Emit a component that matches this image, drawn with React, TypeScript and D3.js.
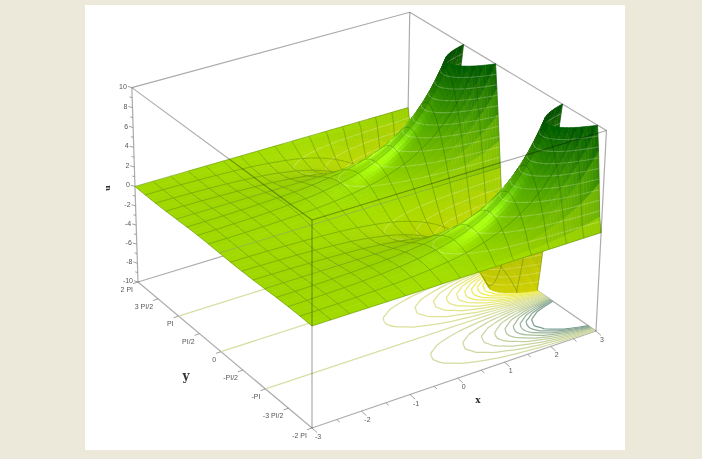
import React from "react";
import * as d3 from "d3";

const WIDTH = 702;
const HEIGHT = 459;

const xGrid = [-3, -2.625, -2.25, -1.875, -1.5, -1.125, -0.75, -0.375, 0, 0.1875, 0.375, 0.5625, 0.75, 0.9375, 1.125, 1.3125, 1.5, 1.6875, 1.875, 2.0625, 2.25, 2.4375, 2.625, 2.8125, 3];
const yGrid = [-6.283, -5.89, -5.498, -5.105, -4.712, -4.32, -3.927, -3.534, -3.142, -2.749, -2.356, -1.963, -1.571, -1.178, -0.785, -0.393, 0, 0.393, 0.785, 1.178, 1.571, 1.963, 2.356, 2.749, 3.142, 3.534, 3.927, 4.32, 4.712, 5.105, 5.498, 5.89, 6.283];

// one row per xGrid value, one column per yGrid value
const zRows = [
  [0, .02, .04, .05, .05, .05, .04, .02, 0, -.02, -.04, -.05, -.05, -.05, -.04, -.02, 0, .02, .04, .05, .05, .05, .04, .02, 0, -.02, -.04, -.05, -.05, -.05, -.04, -.02, 0],
  [0, .03, .05, .07, .07, .07, .05, .03, 0, -.03, -.05, -.07, -.07, -.07, -.05, -.03, 0, .03, .05, .07, .07, .07, .05, .03, 0, -.03, -.05, -.07, -.07, -.07, -.05, -.03, 0],
  [0, .04, .07, .1, .11, .1, .07, .04, 0, -.04, -.07, -.1, -.11, -.1, -.07, -.04, 0, .04, .07, .1, .11, .1, .07, .04, 0, -.04, -.07, -.1, -.11, -.1, -.07, -.04, 0],
  [0, .06, .11, .14, .15, .14, .11, .06, 0, -.06, -.11, -.14, -.15, -.14, -.11, -.06, 0, .06, .11, .14, .15, .14, .11, .06, 0, -.06, -.11, -.14, -.15, -.14, -.11, -.06, 0],
  [0, .09, .16, .21, .22, .21, .16, .09, 0, -.09, -.16, -.21, -.22, -.21, -.16, -.09, 0, .09, .16, .21, .22, .21, .16, .09, 0, -.09, -.16, -.21, -.22, -.21, -.16, -.09, 0],
  [0, .12, .23, .3, .33, .3, .23, .12, 0, -.12, -.23, -.3, -.33, -.3, -.23, -.12, 0, .12, .23, .3, .33, .3, .23, .12, 0, -.12, -.23, -.3, -.33, -.3, -.23, -.12, 0],
  [0, .18, .33, .44, .47, .44, .33, .18, 0, -.18, -.33, -.44, -.47, -.44, -.33, -.18, 0, .18, .33, .44, .47, .44, .33, .18, 0, -.18, -.33, -.44, -.47, -.44, -.33, -.18, 0],
  [0, .26, .49, .64, .69, .64, .49, .26, 0, -.26, -.49, -.64, -.69, -.64, -.49, -.26, 0, .26, .49, .64, .69, .64, .49, .26, 0, -.26, -.49, -.64, -.69, -.64, -.49, -.26, 0],
  [0, .38, .71, .92, 1, .92, .71, .38, 0, -.38, -.71, -.92, -1, -.92, -.71, -.38, 0, .38, .71, .92, 1, .92, .71, .38, 0, -.38, -.71, -.92, -1, -.92, -.71, -.38, 0],
  [0, .46, .85, 1.11, 1.21, 1.11, .85, .46, 0, -.46, -.85, -1.11, -1.21, -1.11, -.85, -.46, 0, .46, .85, 1.11, 1.21, 1.11, .85, .46, 0, -.46, -.85, -1.11, -1.21, -1.11, -.85, -.46, 0],
  [0, .56, 1.03, 1.34, 1.46, 1.34, 1.03, .56, 0, -.56, -1.03, -1.34, -1.46, -1.34, -1.03, -.56, 0, .56, 1.03, 1.34, 1.46, 1.34, 1.03, .56, 0, -.56, -1.03, -1.34, -1.46, -1.34, -1.03, -.56, 0],
  [0, .67, 1.24, 1.62, 1.76, 1.62, 1.24, .67, 0, -.67, -1.24, -1.62, -1.76, -1.62, -1.24, -.67, 0, .67, 1.24, 1.62, 1.76, 1.62, 1.24, .67, 0, -.67, -1.24, -1.62, -1.76, -1.62, -1.24, -.67, 0],
  [0, .81, 1.5, 1.96, 2.12, 1.96, 1.5, .81, 0, -.81, -1.5, -1.96, -2.12, -1.96, -1.5, -.81, 0, .81, 1.5, 1.96, 2.12, 1.96, 1.5, .81, 0, -.81, -1.5, -1.96, -2.12, -1.96, -1.5, -.81, 0],
  [0, .98, 1.81, 2.36, 2.55, 2.36, 1.81, .98, 0, -.98, -1.81, -2.36, -2.55, -2.36, -1.81, -.98, 0, .98, 1.81, 2.36, 2.55, 2.36, 1.81, .98, 0, -.98, -1.81, -2.36, -2.55, -2.36, -1.81, -.98, 0],
  [0, 1.18, 2.18, 2.85, 3.08, 2.85, 2.18, 1.18, 0, -1.18, -2.18, -2.85, -3.08, -2.85, -2.18, -1.18, 0, 1.18, 2.18, 2.85, 3.08, 2.85, 2.18, 1.18, 0, -1.18, -2.18, -2.85, -3.08, -2.85, -2.18, -1.18, 0],
  [0, 1.42, 2.63, 3.43, 3.72, 3.43, 2.63, 1.42, 0, -1.42, -2.63, -3.43, -3.72, -3.43, -2.63, -1.42, 0, 1.42, 2.63, 3.43, 3.72, 3.43, 2.63, 1.42, 0, -1.42, -2.63, -3.43, -3.72, -3.43, -2.63, -1.42, 0],
  [0, 1.72, 3.17, 4.14, 4.48, 4.14, 3.17, 1.72, 0, -1.72, -3.17, -4.14, -4.48, -4.14, -3.17, -1.72, 0, 1.72, 3.17, 4.14, 4.48, 4.14, 3.17, 1.72, 0, -1.72, -3.17, -4.14, -4.48, -4.14, -3.17, -1.72, 0],
  [0, 2.07, 3.82, 5, 5.41, 5, 3.82, 2.07, 0, -2.07, -3.82, -5, -5.41, -5, -3.82, -2.07, 0, 2.07, 3.82, 5, 5.41, 5, 3.82, 2.07, 0, -2.07, -3.82, -5, -5.41, -5, -3.82, -2.07, 0],
  [0, 2.5, 4.61, 6.03, 6.52, 6.03, 4.61, 2.5, 0, -2.5, -4.61, -6.03, -6.52, -6.03, -4.61, -2.5, 0, 2.5, 4.61, 6.03, 6.52, 6.03, 4.61, 2.5, 0, -2.5, -4.61, -6.03, -6.52, -6.03, -4.61, -2.5, 0],
  [0, 3.01, 5.56, 7.27, 7.87, 7.27, 5.56, 3.01, 0, -3.01, -5.56, -7.27, -7.87, -7.27, -5.56, -3.01, 0, 3.01, 5.56, 7.27, 7.87, 7.27, 5.56, 3.01, 0, -3.01, -5.56, -7.27, -7.87, -7.27, -5.56, -3.01, 0],
  [0, 3.63, 6.71, 8.77, 9.49, 8.77, 6.71, 3.63, 0, -3.63, -6.71, -8.77, -9.49, -8.77, -6.71, -3.63, 0, 3.63, 6.71, 8.77, 9.49, 8.77, 6.71, 3.63, 0, -3.63, -6.71, -8.77, -9.49, -8.77, -6.71, -3.63, 0],
  [0, 4.38, 8.09, 10.58, 11.45, 10.58, 8.09, 4.38, 0, -4.38, -8.09, -10.58, -11.45, -10.58, -8.09, -4.38, 0, 4.38, 8.09, 10.58, 11.45, 10.58, 8.09, 4.38, 0, -4.38, -8.09, -10.58, -11.45, -10.58, -8.09, -4.38, 0],
  [0, 5.29, 9.76, 12.76, 13.81, 12.76, 9.76, 5.29, 0, -5.29, -9.76, -12.76, -13.81, -12.76, -9.76, -5.29, 0, 5.29, 9.76, 12.76, 13.81, 12.76, 9.76, 5.29, 0, -5.29, -9.76, -12.76, -13.81, -12.76, -9.76, -5.29, 0],
  [0, 6.38, 11.77, 15.39, 16.65, 15.39, 11.77, 6.38, 0, -6.38, -11.77, -15.39, -16.65, -15.39, -11.77, -6.38, 0, 6.38, 11.77, 15.39, 16.65, 15.39, 11.77, 6.38, 0, -6.38, -11.77, -15.39, -16.65, -15.39, -11.77, -6.38, 0],
  [0, 7.69, 14.2, 18.56, 20.09, 18.56, 14.2, 7.69, 0, -7.69, -14.2, -18.56, -20.09, -18.56, -14.2, -7.69, 0, 7.69, 14.2, 18.56, 20.09, 18.56, 14.2, 7.69, 0, -7.69, -14.2, -18.56, -20.09, -18.56, -14.2, -7.69, 0],
];

const xTicks = [-3, -2, -1, 0, 1, 2, 3];
const xMinorTicks = [-2.5, -1.5, -0.5, 0.5, 1.5, 2.5];
const yTicks = [-6.283, -4.712, -3.142, -1.571, 0, 1.571, 3.142, 4.712, 6.283];
const yTickLabels = ["-2 PI", "-3 PI/2", "-PI", "-PI/2", "0", "PI/2", "PI", "3 PI/2", "2 PI"];
const zTicks = [-10, -8, -6, -4, -2, 0, 2, 4, 6, 8, 10];
const zMinorTicks = [-9, -7, -5, -3, -1, 1, 3, 5, 7, 9];
const contourLevels = [-9, -8, -7, -6, -5, -4, -3, -2, -1, 0, 1, 2, 3, 4, 5, 6, 7, 8, 9];

const X_MIN = -3, X_MAX = 3, Y_MIN = -6.283, Y_MAX = 6.283, Z_MIN = -10, Z_MAX = 10;
const ROWS = xGrid.length, COLS = yGrid.length;

// box corners on the page, perspective weights fitted to the far corners
const ORIGIN = [312, 428];
const X_END = [596, 331];
const Y_END = [138, 282];
const Z_END = [312, 220];
const WX = 1.054, WY = 1.0955, WZ = 0.9626;

const uScale = d3.scaleLinear().domain([X_MIN, X_MAX]).range([0, 1]);
const vScale = d3.scaleLinear().domain([Y_MIN, Y_MAX]).range([0, 1]);
const wScale = d3.scaleLinear().domain([Z_MIN, Z_MAX]).range([0, 1]);
const rowToX = d3.scaleLinear().domain(d3.range(ROWS)).range(xGrid).clamp(true);
const colToY = d3.scaleLinear().domain(d3.range(COLS)).range(yGrid).clamp(true);

type P3 = [number, number, number];

const depth = (p: P3) => 1 + uScale(p[0]) * (WX - 1) + vScale(p[1]) * (WY - 1) + wScale(p[2]) * (WZ - 1);

const project = (p: P3): [number, number] => {
  const u = uScale(p[0]), v = vScale(p[1]), w = wScale(p[2]);
  const d = depth(p);
  const f = (k: number) =>
    (ORIGIN[k] + u * (WX * X_END[k] - ORIGIN[k]) + v * (WY * Y_END[k] - ORIGIN[k]) + w * (WZ * Z_END[k] - ORIGIN[k])) / d;
  return [f(0), f(1)];
};

const linePath = d3.line<P3>().x((p) => project(p)[0]).y((p) => project(p)[1]);
const smoothPath = d3.line<P3>().x((p) => project(p)[0]).y((p) => project(p)[1]).curve(d3.curveCatmullRom);

const surfaceColor = d3.scaleLinear<string>().domain([-10, -4, 0, 5, 10]).range(["#f8f800", "#cce200", "#a0d800", "#4ea400", "#005c00"]);
const floorColor = d3.scaleLinear<string>().domain([-9, -4, 0, 4, 9]).range(["#f2f04a", "#e4e688", "#d8dea2", "#c2d2a0", "#7f9f95"]);

// table value at a fractional grid position, smoothed between the table's cells
const tableAt = (r: number, c: number) => {
  const cc = c < 0 ? -c : c > COLS - 1 ? 2 * (COLS - 1) - c : c;
  if (r < 0) return 2 * zRows[0][cc] - zRows[1][cc];
  if (r > ROWS - 1) return 2 * zRows[ROWS - 1][cc] - zRows[ROWS - 2][cc];
  return zRows[r][cc];
};
const catmull = (a: number, b: number, c: number, d: number, t: number) =>
  0.5 * (2 * b + (c - a) * t + (2 * a - 5 * b + 4 * c - d) * t * t + (3 * b - a - 3 * c + d) * t * t * t);
const zAt = (r: number, c: number) => {
  const ri = Math.min(Math.floor(r), ROWS - 2), ci = Math.min(Math.floor(c), COLS - 2);
  const along = (row: number) =>
    catmull(tableAt(row, ci - 1), tableAt(row, ci), tableAt(row, ci + 1), tableAt(row, ci + 2), c - ci);
  return catmull(along(ri - 1), along(ri), along(ri + 1), along(ri + 2), r - ri);
};
const pointAt = (r: number, c: number): P3 => [rowToX(r), colToY(c), zAt(r, c)];

// clip a polygon against one z limit
const clipZ = (poly: P3[], limit: number, keepBelow: boolean) => {
  const out: P3[] = [];
  const inside = (p: P3) => (keepBelow ? p[2] <= limit : p[2] >= limit);
  poly.forEach((a, i) => {
    const b = poly[(i + 1) % poly.length];
    if (inside(a)) out.push(a);
    if (inside(a) !== inside(b)) {
      const t = (limit - a[2]) / (b[2] - a[2]);
      out.push([a[0] + t * (b[0] - a[0]), a[1] + t * (b[1] - a[1]), limit]);
    }
  });
  return out;
};

const clipEdge = (a: P3, b: P3): P3[] | null => {
  let p = a, q = b;
  for (const [limit, below] of [[Z_MAX, true], [Z_MIN, false]] as [number, boolean][]) {
    const inA = below ? p[2] <= limit : p[2] >= limit;
    const inB = below ? q[2] <= limit : q[2] >= limit;
    if (!inA && !inB) return null;
    if (inA !== inB) {
      const t = (limit - p[2]) / (q[2] - p[2]);
      const c: P3 = [p[0] + t * (q[0] - p[0]), p[1] + t * (q[1] - p[1]), limit];
      if (inA) q = c;
      else p = c;
    }
  }
  return [p, q];
};

// level crossings inside one quad
const quadSegments = (quad: P3[], level: number): [P3, P3][] => {
  const cuts: P3[] = [];
  quad.forEach((a, k) => {
    const b = quad[(k + 1) % 4];
    if (a[2] >= level !== b[2] >= level) {
      const t = (level - a[2]) / (b[2] - a[2]);
      cuts.push([a[0] + t * (b[0] - a[0]), a[1] + t * (b[1] - a[1]), level]);
    }
  });
  if (cuts.length === 2) return [[cuts[0], cuts[1]]];
  if (cuts.length === 4) return [[cuts[0], cuts[1]], [cuts[2], cuts[3]]];
  return [];
};

const isMeshRow = (i: number) => i <= 8 || (i - 8) % 2 === 0;
const isMeshCol = (j: number) => j % 2 === 0;

const LIGHT = [-0.35, -0.5, 0.79];
const HIGHLIGHTS = [
  { dir: [-0.62, -0.2, 0.76], power: 18, gain: 0.42 },
  { dir: [-0.5, 0.55, 0.67], power: 22, gain: 0.5 },
];

const shade = (r: number, c: number) => {
  const e = 0.05;
  const z = Math.max(Z_MIN, Math.min(Z_MAX, zAt(r, c)));
  const r0 = Math.max(0, r - e), r1 = Math.min(ROWS - 1, r + e);
  const c0 = Math.max(0, c - e), c1 = Math.min(COLS - 1, c + e);
  const dzx = (zAt(r1, c) - zAt(r0, c)) / (rowToX(r1) - rowToX(r0));
  const dzy = (zAt(r, c1) - zAt(r, c0)) / (colToY(c1) - colToY(c0));
  const nx = (-dzx * 6) / 20, ny = (-dzy * 12.566) / 20, nz = 1;
  const len = Math.hypot(nx, ny, nz);
  const dot = (v: number[]) => (v[0] * nx + v[1] * ny + v[2] * nz) / len;
  const k = 0.84 + (0.16 * Math.max(0, dot(LIGHT))) / LIGHT[2];
  const spec = d3.sum(HIGHLIGHTS, (h) => Math.pow(Math.max(0, dot(h.dir)), h.power) * h.gain);
  const col = d3.rgb(surfaceColor(z));
  return d3.rgb(
    Math.min(255, col.r * k + spec * 130),
    Math.min(255, col.g * k + spec * 170),
    Math.min(255, col.b * k + spec * 50)
  ).formatHex();
};

type Cell = { i: number; j: number; n: number; order: number; polys: { d: string; fill: string; order: number }[]; mesh: string[]; contour: string[] };

const buildCells = () => {
  const cells: Cell[] = [];
  for (let i = 0; i < ROWS - 1; i++) {
    for (let j = 0; j < COLS - 1; j++) {
      const big = Math.max(Math.abs(zRows[i][j]), Math.abs(zRows[i + 1][j]), Math.abs(zRows[i][j + 1]), Math.abs(zRows[i + 1][j + 1]));
      const n = big > 0.6 ? 3 : 1;
      const polys: Cell["polys"] = [];
      const contour: string[] = [];
      for (let a = 0; a < n; a++) {
        for (let b = 0; b < n; b++) {
          const r0 = i + a / n, r1 = i + (a + 1) / n, c0 = j + b / n, c1 = j + (b + 1) / n;
          const quad = [pointAt(r0, c0), pointAt(r1, c0), pointAt(r1, c1), pointAt(r0, c1)];
          const poly = clipZ(clipZ(quad, Z_MAX, true), Z_MIN, false);
          if (poly.length >= 3) {
            const center: P3 = [d3.mean(poly, (p) => p[0]) as number, d3.mean(poly, (p) => p[1]) as number, d3.mean(poly, (p) => p[2]) as number];
            polys.push({ d: linePath(poly) + "Z", fill: shade((r0 + r1) / 2, (c0 + c1) / 2), order: depth(center) });
          }
          contourLevels.forEach((level) => {
            quadSegments(quad, level).forEach((s) => contour.push(linePath(s) as string));
          });
        }
      }
      if (!polys.length) continue;
      polys.sort((p, q) => q.order - p.order);
      cells.push({ i, j, n, order: d3.mean(polys, (p) => p.order) as number, polys, mesh: [], contour });
    }
  }
  cells.sort((p, q) => q.order - p.order);
  // each mesh edge is drawn once, with the nearest cell that shares it
  const seen = new Set<string>();
  for (let m = cells.length - 1; m >= 0; m--) {
    const { i, j, n, mesh } = cells[m];
    const edges: [string, boolean, number, number, number, number][] = [
      [`r${i},${j}`, isMeshRow(i), i, j, 0, 1],
      [`r${i + 1},${j}`, isMeshRow(i + 1), i + 1, j, 0, 1],
      [`c${i},${j}`, isMeshCol(j), i, j, 1, 0],
      [`c${i},${j + 1}`, isMeshCol(j + 1), i, j + 1, 1, 0],
    ];
    edges.forEach(([key, on, r, c, dr, dc]) => {
      if (!on || seen.has(key)) return;
      seen.add(key);
      for (let s = 0; s < n; s++) {
        const seg = clipEdge(pointAt(r + (dr * s) / n, c + (dc * s) / n), pointAt(r + (dr * (s + 1)) / n, c + (dc * (s + 1)) / n));
        if (seg) mesh.push(linePath(seg) as string);
      }
    });
  }
  return cells;
};

// level curves laid on the floor of the box, with the grid border left out
const floorCurves = (level: number) => {
  const values = zRows.flat();
  const rings = d3.contours().size([COLS, ROWS]).thresholds([level]).smooth(true)(values)[0].coordinates;
  const parts: string[] = [];
  const toFloor = ([cx, cy]: number[]): P3 => [rowToX(cy - 0.5), colToY(cx - 0.5), Z_MIN];
  const onBorder = ([cx, cy]: number[]) => cx <= 0.5 || cx >= COLS - 0.5 || cy <= 0.5 || cy >= ROWS - 0.5;
  rings.flat().forEach((ring: number[][]) => {
    let run: P3[] = [];
    ring.forEach((pt, k) => {
      if (k > 0 && onBorder(pt) && onBorder(ring[k - 1])) {
        if (run.length > 1) parts.push(smoothPath(run) as string);
        run = [];
      }
      run.push(toFloor(pt));
    });
    if (run.length > 1) parts.push(smoothPath(run) as string);
  });
  return parts.join("");
};

const floorContours = contourLevels.map((level) => {
  if (level !== 0) return { level, d: floorCurves(level) };
  // the zero level runs straight along whole grid columns
  const parts: string[] = [];
  yGrid.forEach((y, j) => {
    if (zRows[ROWS - 1][j] === 0 && j > 0 && j < COLS - 1) parts.push(linePath([[X_MIN, y, Z_MIN], [X_MAX, y, Z_MIN]]) as string);
  });
  return { level, d: parts.join("") };
});

const EDGE = "rgba(0,0,0,0.33)";
const LABEL = { fontFamily: "'Liberation Sans', Arial, sans-serif", fontSize: 7, fill: "#555" };

const Edge = ({ a, b }: { a: P3; b: P3 }) => <path d={linePath([a, b]) as string} stroke={EDGE} strokeWidth={1.2} fill="none" />;

export default function App() {
  const cells = buildCells();
  return (
    <svg width={WIDTH} height={HEIGHT} style={{ position: "fixed", left: 0, top: 0, display: "block" }}>
      <defs>
        <filter id="soft" x="-5%" y="-5%" width="110%" height="110%">
          <feGaussianBlur stdDeviation={0.65} />
        </filter>
      </defs>
      <rect width={WIDTH} height={HEIGHT} fill="#ece8da" />
      <rect x={85} y={5} width={540} height={445} fill="#fff" />
      <g filter="url(#soft)">
        {/* back of the box */}
        <Edge a={[X_MIN, Y_MAX, Z_MIN]} b={[X_MAX, Y_MAX, Z_MIN]} />
        <Edge a={[X_MAX, Y_MIN, Z_MIN]} b={[X_MAX, Y_MAX, Z_MIN]} />
        <Edge a={[X_MAX, Y_MAX, Z_MIN]} b={[X_MAX, Y_MAX, Z_MAX]} />
        <Edge a={[X_MIN, Y_MAX, Z_MAX]} b={[X_MAX, Y_MAX, Z_MAX]} />
        <Edge a={[X_MAX, Y_MIN, Z_MAX]} b={[X_MAX, Y_MAX, Z_MAX]} />
        <Edge a={[X_MIN, Y_MIN, Z_MIN]} b={[X_MAX, Y_MIN, Z_MIN]} />
        <Edge a={[X_MIN, Y_MIN, Z_MIN]} b={[X_MIN, Y_MAX, Z_MIN]} />
        <Edge a={[X_MIN, Y_MAX, Z_MIN]} b={[X_MIN, Y_MAX, Z_MAX]} />
        {/* contours on the floor */}
        {floorContours.map((c) => (
          <path key={c.level} d={c.d} fill="none" stroke={floorColor(c.level)} strokeWidth={1.25} />
        ))}
        {/* surface, far to near */}
        {cells.map((cell, n) => (
          <g key={n}>
            {cell.polys.map((p, m) => (
              <path key={m} d={p.d} fill={p.fill} stroke={p.fill} strokeWidth={0.6} />
            ))}
            {cell.contour.length > 0 && <path d={cell.contour.join("")} fill="none" stroke="rgba(255,255,255,0.24)" strokeWidth={1.1} />}
            {cell.mesh.length > 0 && <path d={cell.mesh.join("")} fill="none" stroke="rgba(0,50,0,0.3)" strokeWidth={0.8} />}
          </g>
        ))}
        {/* front of the box */}
        <Edge a={[X_MIN, Y_MIN, Z_MIN]} b={[X_MIN, Y_MIN, Z_MAX]} />
        <Edge a={[X_MAX, Y_MIN, Z_MIN]} b={[X_MAX, Y_MIN, Z_MAX]} />
        <Edge a={[X_MIN, Y_MIN, Z_MAX]} b={[X_MAX, Y_MIN, Z_MAX]} />
        <Edge a={[X_MIN, Y_MIN, Z_MAX]} b={[X_MIN, Y_MAX, Z_MAX]} />
        {/* x axis */}
        {xTicks.map((t) => {
          const [px, py] = project([t, Y_MIN, Z_MIN]);
          return (
            <g key={t}>
              <path d={`M${px},${py}l5,4.5`} stroke="#888" strokeWidth={0.8} />
              <text x={px + 6} y={py + 11} textAnchor="middle" {...LABEL}>{t}</text>
            </g>
          );
        })}
        {xMinorTicks.map((t) => {
          const [px, py] = project([t, Y_MIN, Z_MIN]);
          return <path key={t} d={`M${px},${py}l3,2.7`} stroke="#888" strokeWidth={0.8} />;
        })}
        {/* y axis */}
        {yTicks.map((t, i) => {
          const [px, py] = project([X_MIN, t, Z_MIN]);
          return (
            <g key={t}>
              <path d={`M${px},${py}l-5,1.7`} stroke="#888" strokeWidth={0.8} />
              <text x={px - 5} y={py + 10} textAnchor="end" {...LABEL}>{yTickLabels[i]}</text>
            </g>
          );
        })}
        {/* z axis */}
        {zTicks.map((t) => {
          const [px, py] = project([X_MIN, Y_MAX, t]);
          return (
            <g key={t}>
              <path d={`M${px},${py}l-4,-1.2`} stroke="#888" strokeWidth={0.8} />
              <text x={px - 5} y={py + 1} textAnchor="end" {...LABEL}>{t}</text>
            </g>
          );
        })}
        {zMinorTicks.map((t) => {
          const [px, py] = project([X_MIN, Y_MAX, t]);
          return <path key={t} d={`M${px},${py}l-2.5,-0.8`} stroke="#888" strokeWidth={0.8} />;
        })}
        <text x={478} y={403} textAnchor="middle" fontFamily="'DejaVu Serif', serif" fontWeight="bold" fontSize={9} fill="#333">x</text>
        <text x={186} y={380} textAnchor="middle" fontFamily="'DejaVu Serif', serif" fontWeight="bold" fontSize={12} fill="#333">y</text>
        <text transform="translate(110,188) rotate(-90)" textAnchor="middle" fontFamily="'DejaVu Serif', serif" fontWeight="bold" fontSize={8} fill="#333">u</text>
      </g>
    </svg>
  );
}
